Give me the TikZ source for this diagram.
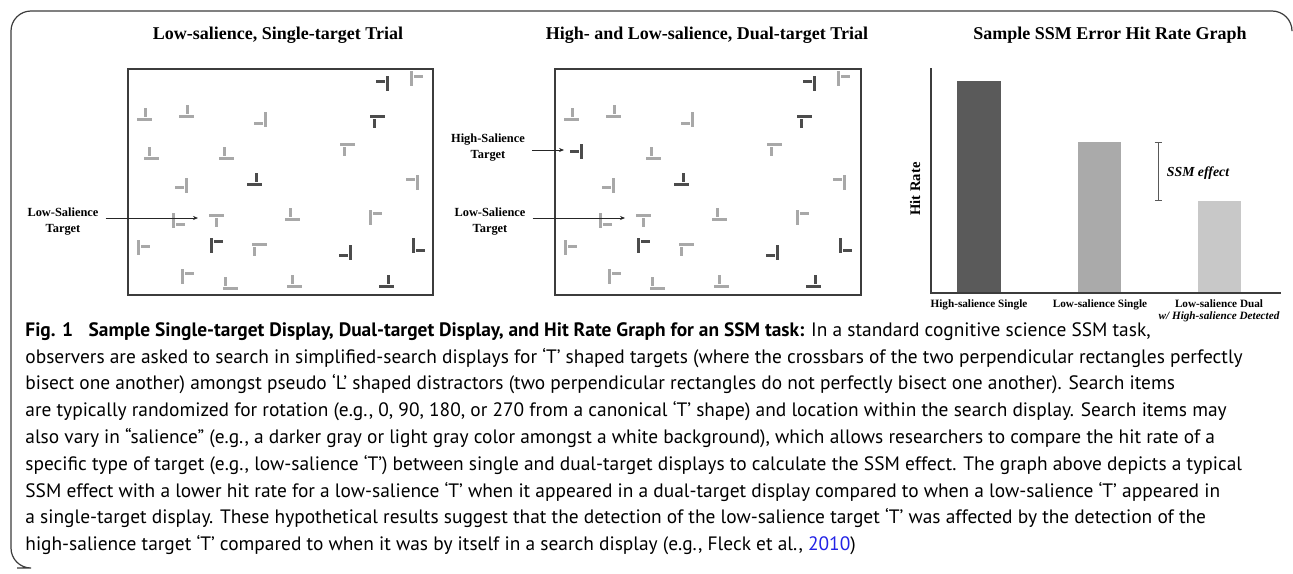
\documentclass[tikz,border=0pt]{standalone}
\usepackage{xcolor}
\usepackage{fontspec}
\usepackage{tikz}
\usetikzlibrary{arrows.meta}
\setmainfont{Liberation Serif}
\newfontfamily\capfont{PT Sans}
\definecolor{itemlight}{HTML}{A8A8A8}
\definecolor{itemdark}{HTML}{4C4C4C}
\definecolor{bardark}{HTML}{5A5A5A}
\definecolor{barmid}{HTML}{AAAAAA}
\definecolor{barlight}{HTML}{C8C8C8}
\definecolor{linkblue}{HTML}{2323E6}
\definecolor{framegray}{HTML}{3C3C3C}

\begin{document}
\begin{tikzpicture}[x=0.5pt, y=-0.5pt,
        title/.style={font=\fontsize{9}{10.8}\selectfont\bfseries},
        lbl/.style={font=\fontsize{6.2}{8}\selectfont\bfseries, align=center},
        xlbl/.style={font=\fontsize{5.6}{6.4}\selectfont\bfseries, align=center, anchor=north, inner sep=1pt},
        ptr/.style={-{Stealth[length=2.5pt,width=2pt]}, line width=0.35pt, black!85},
        display/.style={draw=framegray, line width=1pt}]

        \useasboundingbox (0,0) rectangle (1293,573);
        \draw[framegray, line width=0.6pt, rounded corners=10] (17,568) -- (11,568) -- (11,11) -- (1292,11) -- (1292,30);

        \node[title] (title1) at (278,35) {Low-salience, Single-target Trial};
        \node[title] (title2) at (707,35) {High- and Low-salience, Dual-target Trial};
        \node[title] (title3) at (1110,35) {Sample SSM Error Hit Rate Graph};

        \draw[display] (128,69) rectangle (433,295);
        \draw[display] (555,69) rectangle (861,295);

        \foreach \bx in {128,555} {
            \foreach \ix/\iy/\ia/\io/\ic in {254/14/270/-2/itemdark, 288/9/90/2/itemlight, 16/45/180/-1.5/itemlight,
                58/42/180/-1/itemlight, 132/50/270/4/itemlight, 249/52/0/-3/itemdark, 98/84/180/1.5/itemlight,
                219/80/0/-3/itemlight, 53/116/270/2/itemlight, 126/110/180/-2/itemdark, 284/113/270/-3/itemlight,
                50/151/90/-4/itemlight, 88/151/0/0/itemlight, 164/145/180/1.5/itemlight, 247/148/90/4/itemlight,
                15/178/90/0.5/itemlight, 88/176/90/4/itemdark, 131/180/0/-4.5/itemlight, 217/183/270/3/itemdark,
                290/176/90/-5/itemdark, 59/207/90/3/itemlight, 102/214/180/4.5/itemlight, 166/212/180/2/itemlight,
                258/212/180/-2/itemdark} {
                \begin{scope}[shift={(\bx+\ix,69+\iy)}, rotate=\ia]
                    \fill[\ic] (-7.5,-6.5) rectangle (7.5,-3.5);
                    \fill[\ic] (\io-1.5,-2.5) rectangle (\io+1.5,6.5);
                \end{scope}
            }
        }
        \begin{scope}[shift={(128+23,69+84)}, rotate=180]
            \fill[itemlight] (-7.5,-6.5) rectangle (7.5,-3.5);
            \fill[itemlight] (0.5,-2.5) rectangle (3.5,6.5);
        \end{scope}
        \begin{scope}[shift={(555+21,69+82)}, rotate=270]
            \fill[itemdark] (-7.5,-6.5) rectangle (7.5,-3.5);
            \fill[itemdark] (-1.5,-2.5) rectangle (1.5,6.5);
        \end{scope}

        \coordinate (tgt1) at (198,218);
        \node[lbl] (low1) at (63,222) {Low-Salience\\Target};
        \draw[ptr] (low1.east |- tgt1) -- (tgt1);

        \coordinate (tgt2) at (564,150);
        \node[lbl] (high2) at (488,148) {High-Salience\\Target};
        \draw[ptr] (high2.east |- tgt2) -- (tgt2);

        \coordinate (tgt3) at (625,218);
        \node[lbl] (low2) at (490,222) {Low-Salience\\Target};
        \draw[ptr] (low2.east |- tgt3) -- (tgt3);

        \coordinate (ytop) at (931,68);
        \coordinate (orig) at (931,293);
        \coordinate (xend) at (1281,293);
        \fill[bardark] (957,81) rectangle (1001,293);
        \fill[barmid] (1078,142) rectangle (1121,293);
        \fill[barlight] (1198,201) rectangle (1241,293);
        \draw[framegray, line width=0.6pt] (ytop) -- (orig) -- (xend);
        \node[font=\fontsize{7.3}{8}\selectfont\bfseries, rotate=90] (hitrate) at (915,189) {Hit Rate};

        \coordinate (ssmtop) at (1158,142);
        \coordinate (ssmbot) at (1158,201);
        \draw[{Bar[width=3.5pt]}-{Bar[width=3.5pt]}, line width=0.5pt, black!65] (ssmtop) -- (ssmbot);
        \node[font=\fontsize{6.9}{8}\selectfont\bfseries\itshape] (ssm) at (1198,173) {SSM effect};

        \node[xlbl] (xlbl1) at (979,297) {High-salience Single};
        \node[xlbl] (xlbl2) at (1100,297) {Low-salience Single};
        \node[xlbl] (xlbl3) at (1219,297) {Low-salience Dual\\{\itshape w/ High-salience Detected}};

        \node[anchor=north west, inner sep=0pt, align=left, font=\capfont\fontsize{9.7}{13.4}\selectfont] (caption) at (25,322) {%
            \textbf{Fig. 1\hspace{0.8em}Sample Single-target Display, Dual-target Display, and Hit Rate Graph for an SSM task:} In a standard cognitive science SSM task,\\
            observers are asked to search in simplified-search displays for ‘T’ shaped targets (where the crossbars of the two perpendicular rectangles perfectly\\
            bisect one another) amongst pseudo ‘L’ shaped distractors (two perpendicular rectangles do not perfectly bisect one another). Search items\\
            are typically randomized for rotation (e.g., 0, 90, 180, or 270 from a canonical ‘T’ shape) and location within the search display. Search items may\\
            also vary in “salience” (e.g., a darker gray or light gray color amongst a white background), which allows researchers to compare the hit rate of a\\
            specific type of target (e.g., low-salience ‘T’) between single and dual-target displays to calculate the SSM effect. The graph above depicts a typical\\
            SSM effect with a lower hit rate for a low-salience ‘T’ when it appeared in a dual-target display compared to when a low-salience ‘T’ appeared in\\
            a single-target display. These hypothetical results suggest that the detection of the low-salience target ‘T’ was affected by the detection of the\\
            high-salience target ‘T’ compared to when it was by itself in a search display (e.g., Fleck et al., \textcolor{linkblue}{2010})};
    \end{tikzpicture}
\end{document}
